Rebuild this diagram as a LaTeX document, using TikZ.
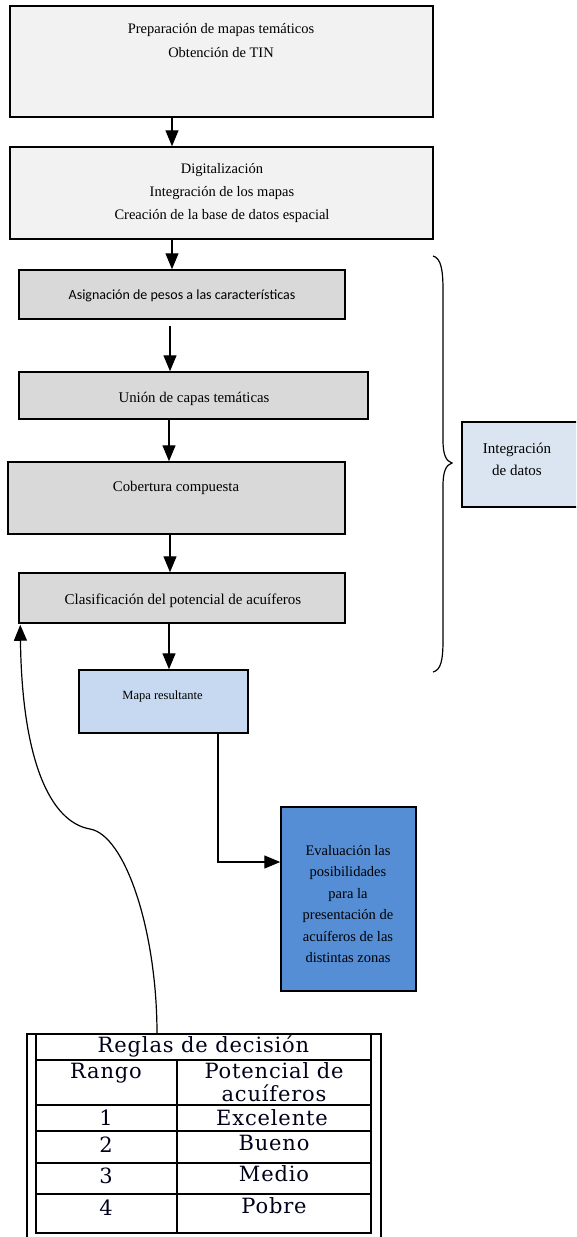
\documentclass[tikz,border=0pt]{standalone}
\usepackage{fontspec}
\setmainfont{Liberation Serif}
\newfontfamily\tblfont[LetterSpace=4]{DejaVu Serif}
\newfontfamily\carlitof{Carlito}
\usetikzlibrary{arrows.meta}
\definecolor{boxlight}{HTML}{F2F2F2}
\definecolor{boxgray}{HTML}{D9D9D9}
\definecolor{boxpale}{HTML}{C6D9F1}
\definecolor{boxpaler}{HTML}{DBE5F1}
\definecolor{boxblue}{HTML}{558ED5}
\begin{document}
\begin{tikzpicture}[x=1pt,y=-1pt,
  box/.style={draw=black, line width=1.5pt, rectangle, inner sep=0pt},
  arr/.style={line width=1.4pt, -{Triangle[width=13pt,length=16pt]}},
  txt/.style={inner sep=0pt, align=center, text=black},
  tbl/.style={inner sep=0pt, anchor=mid, text=black!90!blue, font=\tblfont\fontsize{21}{23}\selectfont},
  tline/.style={line width=1.3pt, line cap=rect}
]
\useasboundingbox (0,0) rectangle (576,1237);
\clip (0,0) rectangle (576,1237);

% boxes
\node[box, fill=boxlight, minimum width=423pt, minimum height=111pt] (b1) at (221.5,61.5) {};
\node[box, fill=boxlight, minimum width=423pt, minimum height=92pt] (b2) at (221.5,193) {};
\node[box, fill=boxgray, minimum width=326pt, minimum height=49pt] (b3) at (182,294.5) {};
\node[box, fill=boxgray, minimum width=349pt, minimum height=47pt] (b4) at (193.5,395.5) {};
\node[box, fill=boxgray, minimum width=337pt, minimum height=72pt] (b5) at (176.5,498) {};
\node[box, fill=boxgray, minimum width=326pt, minimum height=50pt] (b6) at (182,598) {};
\node[box, fill=boxpale, minimum width=169pt, minimum height=63pt] (b7) at (163.5,701.5) {};
\node[box, fill=boxblue, minimum width=135pt, minimum height=184pt] (b8) at (348.5,899) {};
\node[box, fill=boxpaler, minimum width=128pt, minimum height=85pt] (bi) at (526,464.5) {};

% texts
\node[txt, font=\fontsize{14.5}{24}\selectfont] (t1) at (221,41) {Preparación de mapas temáticos\\Obtención de TIN};
\node[txt, font=\fontsize{14.5}{23}\selectfont] (t2) at (222,193) {Digitalización\\Integración de los mapas\\Creación de la base de datos espacial};
\node[txt, anchor=mid, font=\carlitof\fontsize{14}{16}\selectfont] (t3) at (182,297) {Asignación de pesos a las características};
\node[txt, anchor=mid, font=\fontsize{14.8}{16}\selectfont] (t4) at (194,400) {Unión de capas temáticas};
\node[txt, anchor=mid, font=\fontsize{14.8}{16}\selectfont] (t5) at (176,489) {Cobertura compuesta};
\node[txt, anchor=mid, font=\fontsize{15}{16}\selectfont] (t6) at (183,602) {Clasificación del potencial de acuíferos};
\node[txt, anchor=mid, font=\fontsize{12.5}{14}\selectfont] (t7) at (162.5,697) {Mapa resultante};
\node[txt, font=\fontsize{14.5}{21.4}\selectfont] (t8) at (348,904) {Evaluación las\\posibilidades\\para la\\presentación de\\acuíferos de las\\distintas zonas};
\node[txt, font=\fontsize{15}{22}\selectfont] (ti) at (517,459) {Integración\\de datos};

% arrow columns
\coordinate (c1) at (172,0);
\coordinate (c4) at (169,0);
\coordinate (c5) at (170,0);
\coordinate (c6) at (169,0);
\coordinate (s3) at (170,326);
\coordinate (c7) at (218,862);

\draw[arr] (b1.south -| c1) -- (b2.north -| c1);
\draw[arr] (b2.south -| c1) -- (b3.north -| c1);
\draw[arr] (s3) -- (b4.north -| s3);
\draw[arr] (b4.south -| c4) -- (b5.north -| c4);
\draw[arr] (b5.south -| c5) -- (b6.north -| c5);
\draw[arr] (b6.south -| c6) -- (b7.north -| c6);
\draw[arr] (b7.south -| c7) |- (b8.west |- c7);

% brace
\draw[line width=1.2pt] (433,256) .. controls (441,258) and (443,270) .. (443,290)
  -- (443,440) .. controls (443,455) and (446,461) .. (452,463)
  .. controls (446,465) and (443,471) .. (443,486)
  -- (443,640) .. controls (443,660) and (441,670) .. (433,672);

% table
\coordinate (tt) at (157,1034);
\draw[tline] (27,1034) -- (381,1034);
\draw[tline] (27,1034) -- (27,1240);
\draw[tline] (381,1034) -- (381,1240);
\draw[tline] (36,1034) -- (36,1233);
\draw[tline] (371,1034) -- (371,1233);
\foreach \yy in {1060,1105,1131,1163,1194,1233} {\draw[tline] (36,\yy) -- (371,\yy);}
\draw[tline] (177,1060) -- (177,1233);

\node[tbl] (r0) at (203.5,1050) {Reglas de decisión};
\node[tbl] (h1) at (106,1076) {Rango};
\node[tbl] (h2) at (274,1076) {Potencial de};
\node[tbl] (h3) at (274,1099) {acuíferos};
\node[tbl] (n1) at (106,1123) {1};
\node[tbl] (v1) at (272,1123) {Excelente};
\node[tbl] (n2) at (106,1150) {2};
\node[tbl] (v2) at (274,1148) {Bueno};
\node[tbl] (n3) at (106,1181) {3};
\node[tbl] (v3) at (274,1179) {Medio};
\node[tbl] (n4) at (106,1213) {4};
\node[tbl] (v4) at (274,1211) {Pobre};

% feedback curve
\draw[line width=1.2pt, -{Triangle[width=13pt,length=16pt]}] (tt)
  .. controls (157,930) and (125,835) .. (90,829)
  .. controls (50,822) and (22,760) .. ([xshift=2pt,yshift=-1pt]b6.south west);
\end{tikzpicture}
\end{document}
